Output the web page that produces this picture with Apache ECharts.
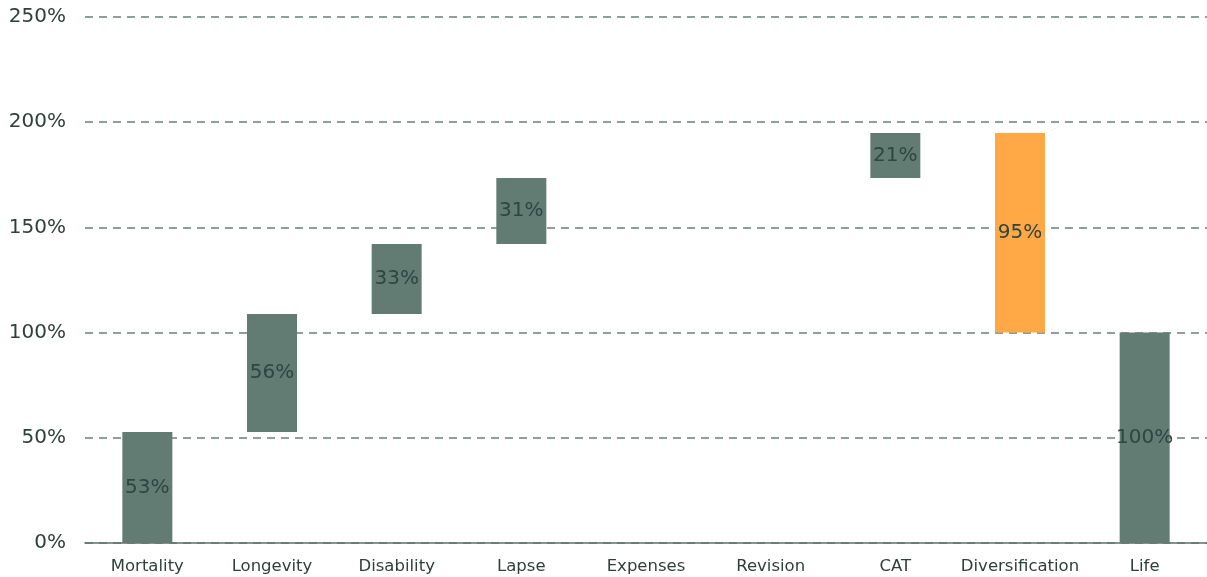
<!DOCTYPE html>
<html><head><meta charset="utf-8">
<script src="https://cdn.jsdelivr.net/npm/echarts@6/dist/echarts.min.js"></script>
<style>html,body{margin:0;padding:0;background:#fff}#c{width:1207px;height:577px}</style>
</head><body><div id="c"></div>
<script>
const categories = ['Mortality','Longevity','Disability','Lapse','Expenses','Revision','CAT','Diversification','Life'];
const changes = [52.8, 56.0, 33.3, 31.4, 0, 0, 21.4, -94.9, 100];
const isTotal = [false,false,false,false,false,false,false,false,true];
const yTicks = [0, 50, 100, 150, 200, 250];

const base = [], height = [];
let cum = 0;
changes.forEach((v, i) => {
  if (isTotal[i]) { base.push(0); height.push(v); return; }
  if (v >= 0) { base.push(cum); height.push(v); cum += v; }
  else { cum += v; base.push(cum); height.push(-v); }
});

const FONT = '"DejaVu Sans"';
const chart = echarts.init(document.getElementById('c'));
chart.setOption({
  animation: false,
  grid: { left: 85, right: -1, top: 17, bottom: 34 },
  xAxis: {
    type: 'category', data: categories,
    axisLine: { show: true, lineStyle: { color: '#5c736b', width: 1.5 } },
    axisTick: { show: false },
    axisLabel: { interval: 0, color: '#2f3f3a', fontSize: 16.5, fontFamily: FONT, margin: 15 }
  },
  yAxis: {
    type: 'value', min: yTicks[0], max: yTicks[yTicks.length-1], interval: 50,
    axisLine: { show: false }, axisTick: { show: false },
    axisLabel: { color: '#2f3f3a', fontSize: 20, fontFamily: FONT, margin: 19, formatter: v => v + '%' },
    splitLine: { lineStyle: { color: '#6a807a', type: [8, 6], width: 1.5 } }
  },
  series: [
    { type: 'bar', stack: 'w', data: base, barWidth: 50, itemStyle: { color: 'transparent' }, silent: true },
    { type: 'bar', stack: 'w', data: height.map((h, i) => ({
        value: h,
        itemStyle: { color: changes[i] < 0 ? '#ffa845' : '#627b73' }
      })),
      barWidth: 50,
      label: { show: true, position: 'inside', color: '#2d4640', fontSize: 20, fontFamily: FONT,
        formatter: p => p.value ? Math.round(p.value) + '%' : '' }
    }
  ]
});
</script></body></html>
